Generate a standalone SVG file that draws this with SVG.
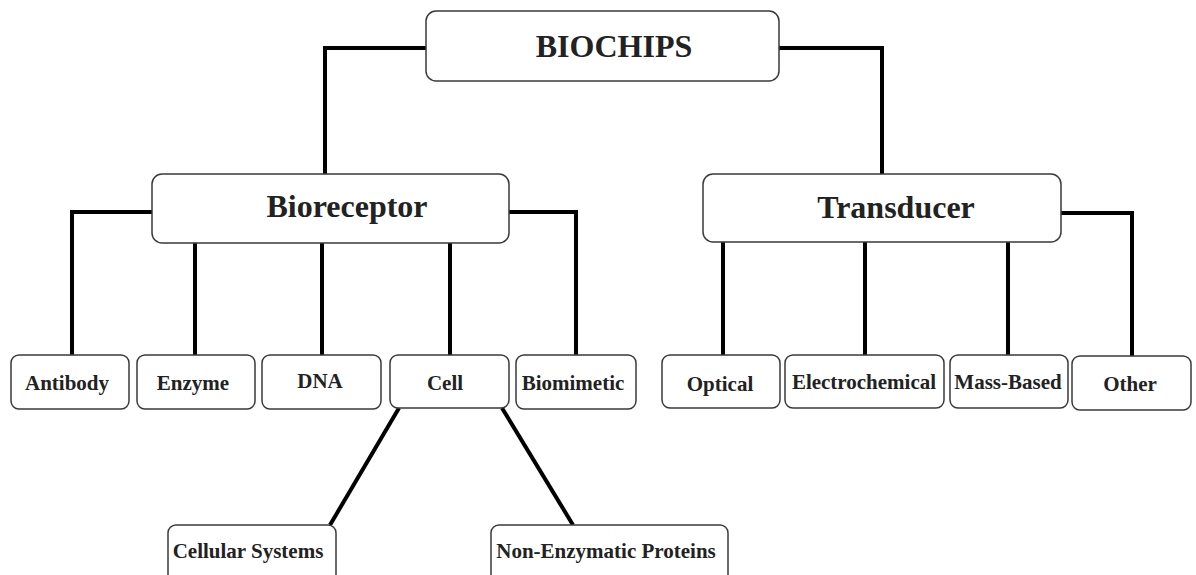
<svg xmlns="http://www.w3.org/2000/svg" width="1196" height="575" viewBox="0 0 1196 575">
<style>
.box{fill:#fff;stroke:#3a3a3a;stroke-width:1.5}
.t{font-family:"Liberation Serif","Times New Roman",serif;font-weight:bold;fill:#222;text-anchor:middle}
.big{font-size:32px}
.sm{font-size:21px}
.c{fill:none;stroke:#000;stroke-width:4;stroke-linejoin:miter}
</style>
<rect width="1196" height="575" fill="#fff"/>
<g id="connectors">
<path class="c" d="M426,48 H325 V174"/>
<path class="c" d="M779,48 H882 V174"/>
<path class="c" d="M152,212 H72 V355"/>
<path class="c" d="M509,212 H576 V355"/>
<path class="c" d="M195,243 V355"/>
<path class="c" d="M322,243 V355"/>
<path class="c" d="M450,243 V355"/>
<path class="c" d="M723,242 V355"/>
<path class="c" d="M865,242 V355"/>
<path class="c" d="M1008,242 V355"/>
<path class="c" d="M1061,213 H1132 V356"/>
<path class="c" d="M399,408 L330,525"/>
<path class="c" d="M502,408 L573,525"/>
</g>
<g id="biochips"><rect class="box" x="426" y="11" width="353" height="70" rx="10"/><text class="t big" x="614" y="57">BIOCHIPS</text></g>
<g id="bioreceptor"><rect class="box" x="152" y="174" width="357" height="69" rx="10"/><text class="t big" x="347" y="217">Bioreceptor</text></g>
<g id="transducer"><rect class="box" x="703" y="174" width="358" height="68" rx="10"/><text class="t big" x="896" y="218">Transducer</text></g>
<g id="antibody"><rect class="box" x="11" y="355" width="118" height="54" rx="8"/><text class="t sm" x="67" y="390">Antibody</text></g>
<g id="enzyme"><rect class="box" x="137" y="355" width="118" height="54" rx="8"/><text class="t sm" x="193" y="390">Enzyme</text></g>
<g id="dna"><rect class="box" x="262" y="355" width="119" height="54" rx="8"/><text class="t sm" x="320" y="388">DNA</text></g>
<g id="cell"><rect class="box" x="390" y="355" width="119" height="53" rx="8"/><text class="t sm" x="445" y="390">Cell</text></g>
<g id="biomimetic"><rect class="box" x="516" y="355" width="120" height="54" rx="8"/><text class="t sm" x="573" y="390">Biomimetic</text></g>
<g id="optical"><rect class="box" x="662" y="355" width="118" height="53" rx="8"/><text class="t sm" x="720" y="391">Optical</text></g>
<g id="electrochemical"><rect class="box" x="785" y="355" width="159" height="53" rx="8"/><text class="t sm" x="864" y="389">Electrochemical</text></g>
<g id="massbased"><rect class="box" x="950" y="355" width="118" height="53" rx="8"/><text class="t sm" x="1008" y="389">Mass-Based</text></g>
<g id="other"><rect class="box" x="1072" y="356" width="119" height="54" rx="8"/><text class="t sm" x="1130" y="391">Other</text></g>
<g id="cellular"><rect class="box" x="168" y="525" width="168" height="70" rx="8"/><text class="t sm" x="248" y="558">Cellular Systems</text></g>
<g id="nonenzymatic"><rect class="box" x="491" y="525" width="237" height="70" rx="8"/><text class="t sm" x="606" y="558">Non-Enzymatic Proteins</text></g>
</svg>
